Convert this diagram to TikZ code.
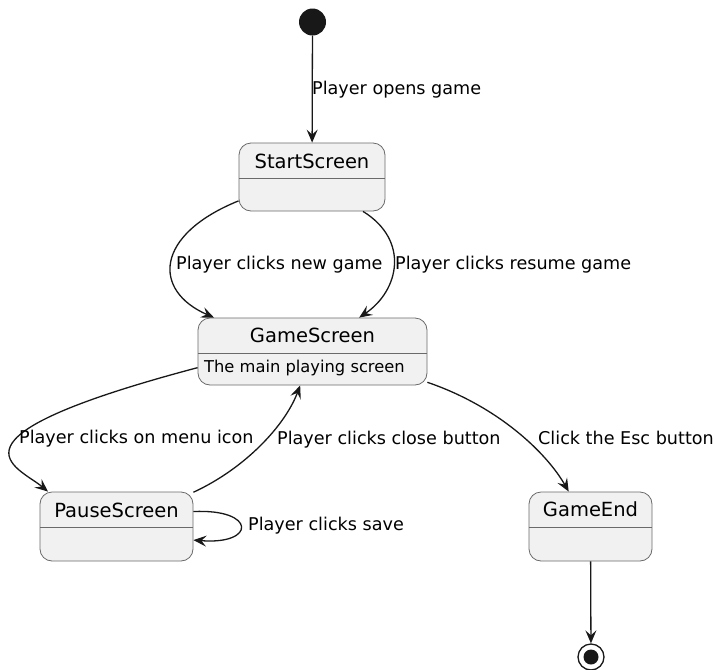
\documentclass[tikz,border=0pt]{standalone}
\usepackage{fontspec}
\setmainfont{DejaVu Sans}
\usetikzlibrary{arrows.meta}
\definecolor{statefill}{HTML}{F1F1F1}
\definecolor{stateline}{HTML}{6A6A6A}
\definecolor{arrowline}{HTML}{181818}

\tikzset{
	state/.style={draw=stateline, fill=statefill, rounded corners=12pt, line width=0.8pt, inner sep=0pt,
		path picture={\draw[stateline, line width=0.8pt] ([yshift=-35.5pt]path picture bounding box.north west) -- ([yshift=-35.5pt]path picture bounding box.north east);}},
	statename/.style={font=\fontsize{19.5}{22}\selectfont, inner sep=0pt},
	statetext/.style={font=\fontsize{16.3}{19}\selectfont, inner sep=0pt, anchor=west},
	trans/.style={draw=arrowline, line width=1.3pt, -{Stealth[length=13pt,width=11pt,inset=5pt]}},
	lbl/.style={font=\fontsize{17.6}{20}\selectfont, inner sep=0pt, anchor=west}
}

\begin{document}
\begin{tikzpicture}[x=1pt,y=-1pt]
	\useasboundingbox (0,0) rectangle (713,670);
	% states
	\node[circle, fill=arrowline, minimum size=27pt, inner sep=0pt] (init) at (312.5,22) {};
	\node[state, minimum width=146pt, minimum height=68pt] (start) at (312,177) {};
	\node[statename] (startname) at (312,161) {StartScreen};
	\node[state, minimum width=229pt, minimum height=67pt] (game) at (312.5,351.5) {};
	\node[statename] (gamename) at (312.5,335) {GameScreen};
	\node[statetext] (gametext) at (204,368) {The main playing screen};
	\node[state, minimum width=153pt, minimum height=69pt] (pause) at (116.5,526.5) {};
	\node[statename] (pausename) at (116.5,510) {PauseScreen};
	\node[state, minimum width=123pt, minimum height=69pt] (gameend) at (590.5,526.5) {};
	\node[statename] (gameendname) at (590.5,509) {GameEnd};
	\node[circle, draw=arrowline, line width=1.3pt, minimum size=26pt, inner sep=0pt] (final) at (591,657) {};
	\node[circle, fill=arrowline, minimum size=15pt, inner sep=0pt] (finaldot) at (final) {};
	% transitions
	\draw[trans] (init) -- (start);
	\draw[trans] (start.198) .. controls +(-84,34) and +(-62,-27) .. (game.161);
	\draw[trans] (start.326) .. controls +(47,29) and +(40,-27) .. (game.36);
	\draw[trans] (game.188) .. controls +(-268,71) and +(-30,-25) .. (pause.153);
	\draw[trans] (pause.24) .. controls +(52,-24) and +(-15,40) .. (game.250);
	\draw[trans] (pause.11) .. controls +(63,-3) and +(63,5) .. (pause.-10);
	\draw[trans] (game.345) .. controls +(73,25) and +(-21,-37) .. (gameend.122);
	\draw[trans] (gameend) -- (final);
	% labels
	\node[lbl] (opens) at (312,90) {Player opens game};
	\node[lbl] (newgame) at (176,265) {Player clicks new game};
	\node[lbl] (resume) at (395,265) {Player clicks resume game};
	\node[lbl] (menu) at (19,439) {Player clicks on menu icon};
	\node[lbl] (close) at (277,440) {Player clicks close button};
	\node[lbl] (save) at (248,526) {Player clicks save};
	\node[lbl] (esc) at (538,438) {Click the Esc button};
\end{tikzpicture}
\end{document}
